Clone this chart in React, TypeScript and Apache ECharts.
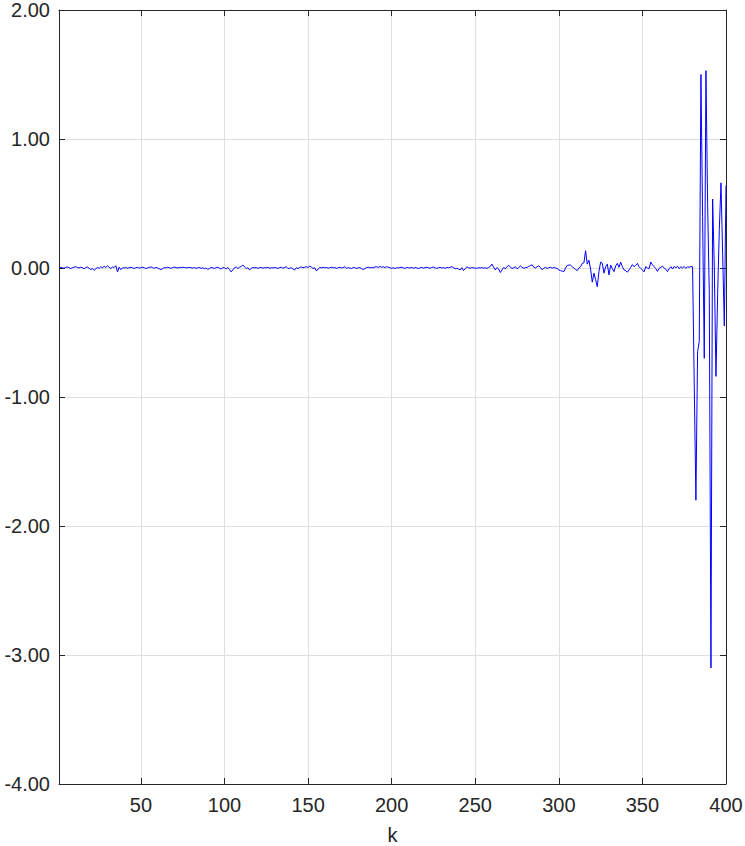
import React, { useEffect, useRef } from "react";
import * as echarts from "echarts";

// Values, k = 1..400, in four blocks of 100
const valuesK001to100 = [
  0.000, 0.004, 0.002, -0.003, 0.005, 0.008, 0.002, -0.004, 0.003, 0.006,
  0.010, 0.004, 0.000, 0.006, 0.002, -0.005, 0.003, 0.008, -0.002, -0.012,
  -0.004, -0.018, -0.006, 0.004, -0.003, 0.009, 0.002, 0.012, 0.005, 0.016,
  0.006, -0.004, 0.008, 0.004, 0.018, -0.030, 0.006, -0.013, 0.002, 0.000,
  0.004, -0.002, 0.003, 0.006, 0.001, -0.003, 0.002, 0.005, -0.001, 0.003,
  0.006, 0.002, -0.004, 0.001, 0.005, 0.008, 0.003, -0.002, 0.004, 0.000,
  -0.006, -0.012, -0.004, 0.003, 0.001, 0.006, 0.002, -0.003, 0.004, 0.007,
  0.003, 0.000, 0.005, 0.002, 0.006, 0.004, 0.001, 0.003, 0.005, 0.002,
  0.000, 0.003, -0.002, 0.001, 0.004, -0.003, 0.002, -0.006, 0.001, -0.012,
  -0.003, 0.004, 0.002, -0.004, 0.003, 0.006, -0.002, -0.008, 0.003, 0.001,
];

const valuesK101to200 = [
  -0.006, 0.004, -0.012, -0.030, -0.015, 0.002, 0.008, -0.004, 0.006, 0.012,
  0.023, 0.008, -0.004, 0.002, -0.015, -0.003, 0.004, 0.001, 0.003, -0.002,
  0.002, 0.004, -0.001, 0.003, 0.001, 0.005, -0.002, 0.002, 0.000, 0.004,
  0.001, -0.003, 0.003, 0.006, -0.002, 0.004, 0.010, -0.004, -0.002, 0.002,
  -0.008, -0.015, 0.002, -0.004, 0.004, 0.008, 0.002, 0.006, 0.010, 0.004,
  0.015, 0.006, -0.004, 0.002, -0.023, -0.008, 0.004, 0.001, 0.006, 0.002,
  0.004, -0.002, 0.003, 0.006, 0.001, 0.004, -0.003, 0.002, 0.005, 0.000,
  0.004, 0.010, -0.002, 0.003, 0.000, -0.004, 0.004, 0.002, -0.003, 0.001,
  0.003, -0.005, -0.012, -0.004, 0.003, 0.006, 0.001, 0.004, 0.002, 0.008,
  0.010, 0.004, 0.012, 0.006, 0.010, 0.003, 0.011, 0.005, 0.002, -0.003,
];

const valuesK201to300 = [
  0.002, -0.004, 0.003, 0.000, 0.004, 0.006, 0.001, -0.003, 0.004, 0.002,
  0.000, 0.005, -0.002, 0.003, 0.001, -0.004, 0.002, 0.004, -0.001, 0.003,
  0.006, 0.002, -0.002, 0.004, 0.008, 0.001, -0.003, 0.002, 0.005, 0.000,
  0.003, -0.002, 0.004, 0.002, 0.006, 0.010, 0.003, -0.005, -0.002, -0.008,
  -0.015, 0.002, -0.020, -0.004, 0.008, 0.002, -0.002, 0.003, 0.001, 0.000,
  -0.002, 0.002, 0.000, 0.003, -0.001, 0.002, -0.003, 0.004, 0.012, 0.030,
  0.006, -0.015, 0.004, -0.008, -0.035, -0.015, 0.004, -0.006, 0.010, 0.020,
  0.008, -0.004, 0.002, 0.010, -0.006, 0.004, 0.016, 0.006, -0.002, 0.002,
  0.004, 0.012, 0.018, 0.025, 0.006, 0.000, 0.010, 0.016, 0.004, -0.014,
  -0.002, 0.006, -0.004, 0.002, 0.006, -0.002, 0.004, 0.000, -0.004, -0.015,
];

const valuesK301to400 = [
  -0.020, -0.024, -0.028, 0.000, 0.020, 0.023, 0.022, 0.010, 0.000, -0.012,
  -0.020, 0.000, 0.010, 0.036, 0.040, 0.134, 0.030, 0.060, -0.010, -0.110,
  -0.040, -0.090, -0.145, -0.028, 0.046, 0.036, -0.040, 0.010, 0.030, -0.054,
  0.023, -0.005, -0.028, 0.015, 0.036, 0.005, 0.046, 0.010, -0.015, -0.020,
  -0.033, -0.015, 0.005, 0.026, 0.010, 0.020, 0.036, 0.010, -0.003, -0.015,
  -0.030, 0.010, 0.000, -0.005, 0.046, 0.025, 0.010, -0.005, -0.026, -0.003,
  0.005, 0.015, 0.000, -0.010, -0.028, -0.005, 0.010, -0.008, 0.012, 0.002,
  0.013, -0.005, 0.010, 0.000, 0.012, -0.003, 0.010, 0.005, 0.012, 0.010,
  -0.900, -1.800, -0.650, -0.570, 1.500, 0.400, -0.700, 1.530, 0.500, -0.200,
  -3.100, 0.535, 0.000, -0.840, -0.200, 0.300, 0.660, 0.100, -0.450, 0.640,
];

const xTickValues = [50, 100, 150, 200, 250, 300, 350, 400];
const xName = "k";

const allValues = [
  ...valuesK001to100,
  ...valuesK101to200,
  ...valuesK201to300,
  ...valuesK301to400,
];
const seriesData = allValues.map((v, i) => [i + 1, v]);

const AXIS_COLOR = "#262626";
const GRID_COLOR = "#dfdfdf";
const FONT = "'Liberation Sans', Arial, Helvetica, sans-serif";
const FONT_SIZE = 20;

export default function App() {
  const ref = useRef<HTMLDivElement>(null);

  useEffect(() => {
    document.body.style.margin = "0";
    if (!ref.current) return;
    const chart = echarts.init(ref.current, null, { renderer: "svg" });

    const xCommon = {
      type: "value" as const,
      min: 1,
      max: 400,
      axisLine: { show: true, onZero: false, lineStyle: { color: AXIS_COLOR, width: 1 } },
      axisTick: { show: true, inside: true, length: 6, customValues: xTickValues, lineStyle: { color: AXIS_COLOR } },
    };
    const yCommon = {
      type: "value" as const,
      min: -4,
      max: 2,
      interval: 1,
      axisLine: { show: true, onZero: false, lineStyle: { color: AXIS_COLOR, width: 1 } },
      axisTick: { show: true, inside: true, length: 6, lineStyle: { color: AXIS_COLOR } },
    };

    chart.setOption({
      animation: false,
      backgroundColor: "#ffffff",
      grid: { left: 59, right: 19, top: 10, bottom: 62, outerBoundsMode: "none", containLabel: false },
      xAxis: [
        {
          ...xCommon,
          position: "bottom",
          name: xName,
          nameLocation: "middle",
          nameGap: 41,
          nameTextStyle: { color: AXIS_COLOR, fontSize: FONT_SIZE, fontFamily: FONT, lineHeight: 20 },
          axisLabel: {
            show: true,
            customValues: xTickValues,
            margin: 11,
            color: AXIS_COLOR,
            fontSize: FONT_SIZE,
            fontFamily: FONT,
          },
          splitLine: { show: true, lineStyle: { color: GRID_COLOR, width: 1 } },
        },
        {
          ...xCommon,
          position: "top",
          axisLabel: { show: false },
          splitLine: { show: false },
        },
      ],
      yAxis: [
        {
          ...yCommon,
          position: "left",
          axisLabel: {
            show: true,
            margin: 9,
            color: AXIS_COLOR,
            fontSize: FONT_SIZE,
            fontFamily: FONT,
            formatter: (v: number) => v.toFixed(2),
          },
          splitLine: { show: true, lineStyle: { color: GRID_COLOR, width: 1 } },
        },
        {
          ...yCommon,
          position: "right",
          axisLabel: { show: false },
          splitLine: { show: false },
        },
      ],
      series: [
        {
          type: "line",
          xAxisIndex: 0,
          yAxisIndex: 0,
          data: seriesData,
          showSymbol: false,
          symbol: "none",
          lineStyle: { color: "#0000ff", width: 1 },
          itemStyle: { color: "#0000ff" },
          z: 3,
        },
      ],
    });

    return () => chart.dispose();
  }, []);

  return <div ref={ref} style={{ width: 745, height: 846 }} />;
}
